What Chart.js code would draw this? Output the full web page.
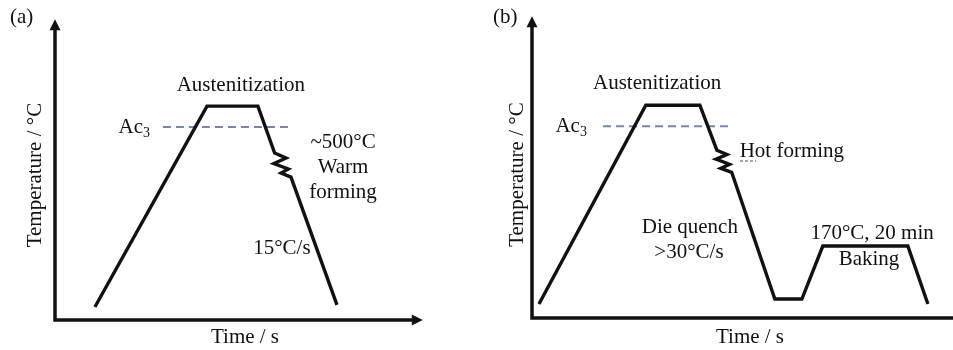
<!DOCTYPE html>
<html>
<head>
<meta charset="utf-8">
<script src="https://cdn.jsdelivr.net/npm/chart.js@4/dist/chart.umd.min.js"></script>
<style>
  html, body { margin: 0; padding: 0; background: #fff; overflow: hidden; width: 953px; height: 350px; }
  .panel { position: absolute; top: 0; }
</style>
</head>
<body>
<div class="panel" style="left:0"><canvas id="chartA" width="476" height="350"></canvas></div>
<div class="panel" style="left:476px"><canvas id="chartB" width="492" height="350"></canvas></div>
<script>
// (a) warm forming route, schematic units 0-100 on both axes
var timeA = [10.5, 40.0, 53.4, 57.8, 60.8, 57.6, 61.4, 59.5, 62.1, 74.2];
var tempA = [4.5, 73.8, 73.8, 57.6, 55.9, 54.0, 52.1, 50.7, 49.3, 5.2];
var ac3TimeA = [28.4, 62.4];
var ac3TempA = 66.6;
var labelsA = ['Austenitization', '~500°C', 'Warm', 'forming', '15°C/s'];
var labelTimeA = [48.9, 75.8, 75.8, 75.8, 59.7];
var labelTempA = [80.8, 61.2, 52.6, 43.9, 24.6];

// (b) hot forming + die quench + baking route
var timeB = [1.6, 26.1, 38.5, 42.4, 44.7, 42.2, 45.3, 43.3, 45.8, 55.7, 61.9, 66.7, 86.2, 90.8];
var tempB = [4.9, 74.2, 74.2, 58.5, 57.0, 55.4, 53.6, 52.2, 50.8, 6.6, 6.6, 25.1, 25.1, 4.9];
var ac3TimeB = [16.3, 45.4];
var ac3TempB = 66.9;
var formTimeB = [47.7, 51.4];
var formTempB = 54.7;
var labelsB = ['Austenitization', 'Hot forming', 'Die quench', '>30°C/s', '170°C, 20 min', 'Baking'];
var labelTimeB = [28.7, 59.6, 36.2, 36.0, 78.0, 77.3];
var labelTempB = [81.8, 58.0, 31.5, 22.8, 29.4, 20.4];

var serif = '"Liberation Serif", "Times New Roman", serif';
var ink = '#111';

function pts(xs, ys) {
    var out = [];
    for (var i = 0; i < xs.length; i++) {
        out.push({x: xs[i], y: Array.isArray(ys) ? ys[i] : ys});
    }
    return out;
}

// axis lines with arrow heads, drawn on the chart area edges
var axisArrows = {
    id: 'axisArrows',
    afterDraw: function(chart, args, opts) {
        var ctx = chart.ctx, a = chart.chartArea;
        var xs = chart.scales.x, ys = chart.scales.y;
        var xEnd = xs.getPixelForValue(opts.xEnd);
        var yEnd = ys.getPixelForValue(opts.yEnd);
        var head = 11, half = 5.5;
        ctx.save();
        ctx.strokeStyle = ink;
        ctx.fillStyle = ink;
        ctx.lineWidth = 3.5;
        ctx.beginPath();
        ctx.moveTo(a.left, yEnd + head - 1);
        ctx.lineTo(a.left, a.bottom);
        ctx.lineTo(xEnd - head + 1, a.bottom);
        ctx.stroke();
        ctx.beginPath();
        ctx.moveTo(a.left, yEnd);
        ctx.lineTo(a.left - half, yEnd + head);
        ctx.lineTo(a.left + half, yEnd + head);
        ctx.closePath();
        ctx.fill();
        ctx.beginPath();
        ctx.moveTo(xEnd, a.bottom);
        ctx.lineTo(xEnd - head, a.bottom - half);
        ctx.lineTo(xEnd - head, a.bottom + half);
        ctx.closePath();
        ctx.fill();
        ctx.restore();
    }
};

// text annotations placed in data coordinates
var notes = {
    id: 'notes',
    afterDraw: function(chart, args, opts) {
        var ctx = chart.ctx;
        var xs = chart.scales.x, ys = chart.scales.y;
        ctx.save();
        ctx.fillStyle = ink;
        ctx.textBaseline = 'middle';
        ctx.textAlign = 'center';
        ctx.font = '21px ' + serif;
        for (var i = 0; i < opts.text.length; i++) {
            ctx.fillText(opts.text[i], xs.getPixelForValue(opts.x[i]), ys.getPixelForValue(opts.y[i]));
        }
        // Ac3 with subscript, right aligned on the dashed line's left end
        var rx = xs.getPixelForValue(opts.ac3[0]);
        var ry = ys.getPixelForValue(opts.ac3[1]);
        ctx.textAlign = 'right';
        ctx.font = '14px ' + serif;
        var subW = ctx.measureText('3').width;
        ctx.fillText('3', rx, ry + 6);
        ctx.font = '21px ' + serif;
        ctx.fillText('Ac', rx - subW, ry);
        ctx.restore();
    }
};

function makeChart(id, cfg) {
    var titleFont = {family: serif, size: 21, lineHeight: 1.2};
    var datasets = [
        {
            data: pts(cfg.time, cfg.temp),
            borderColor: ink,
            borderWidth: 3.4,
            showLine: true,
            pointRadius: 0
        },
        {
            data: pts(cfg.ac3Time, cfg.ac3Temp),
            borderColor: '#7684ad',
            borderWidth: 2,
            borderDash: [8, 5],
            showLine: true,
            pointRadius: 0
        }
    ];
    if (cfg.formTime) {
        datasets.push({
            data: pts(cfg.formTime, cfg.formTemp),
            borderColor: '#8a8a8a',
            borderWidth: 1.5,
            borderDash: [3, 2],
            showLine: true,
            pointRadius: 0
        });
    }
    return new Chart(document.getElementById(id), {
        type: 'scatter',
        data: {datasets: datasets},
        options: {
            responsive: false,
            animation: false,
            events: [],
            layout: {padding: {left: cfg.padLeft, right: cfg.padRight, top: 0, bottom: 0}},
            scales: {
                x: {
                    type: 'linear', min: 0, max: 100,
                    grid: {display: false, drawTicks: false},
                    border: {display: false},
                    ticks: {display: false},
                    title: {display: true, text: 'Time / s', color: ink, font: titleFont, padding: {top: cfg.xTitleTop, bottom: 0}}
                },
                y: {
                    type: 'linear', min: 0, max: 100,
                    grid: {display: false, drawTicks: false},
                    border: {display: false},
                    ticks: {display: false},
                    title: {display: true, text: 'Temperature / °C', color: ink, font: titleFont, padding: {top: cfg.yTitleTop, bottom: cfg.yTitleBottom}}
                }
            },
            plugins: {
                legend: {display: false},
                tooltip: {enabled: false},
                title: {display: true, text: cfg.tag, align: 'start', color: ink, font: {family: serif, size: 21, weight: 'normal', lineHeight: 1.2}, padding: {top: 5, bottom: cfg.tagBottom}},
                axisArrows: {xEnd: cfg.xEnd, yEnd: cfg.yEnd},
                notes: {text: cfg.labels, x: cfg.labelTime, y: cfg.labelTemp, ac3: cfg.ac3Label}
            }
        },
        plugins: [axisArrows, notes]
    });
}

makeChart('chartA', {
    tag: '(a)', tagBottom: 0,
    time: timeA, temp: tempA,
    ac3Time: ac3TimeA, ac3Temp: ac3TempA,
    labels: labelsA, labelTime: labelTimeA, labelTemp: labelTempA,
    ac3Label: [25.0, ac3TempA],
    padLeft: 10, padRight: 41,
    xTitleTop: 4.8, yTitleTop: 12.4, yTitleBottom: 7.4,
    xEnd: 96.8, yEnd: 103.8
});

makeChart('chartB', {
    tag: '(b)', tagBottom: 1,
    time: timeB, temp: tempB,
    ac3Time: ac3TimeB, ac3Temp: ac3TempB,
    formTime: formTimeB, formTemp: formTempB,
    labels: labelsB, labelTime: labelTimeB, labelTemp: labelTempB,
    ac3Label: [12.6, ac3TempB],
    padLeft: 17, padRight: 0,
    xTitleTop: 6.8, yTitleTop: 11.4, yTitleBottom: 2.4,
    xEnd: 103, yEnd: 105.2
});
</script>
</body>
</html>
